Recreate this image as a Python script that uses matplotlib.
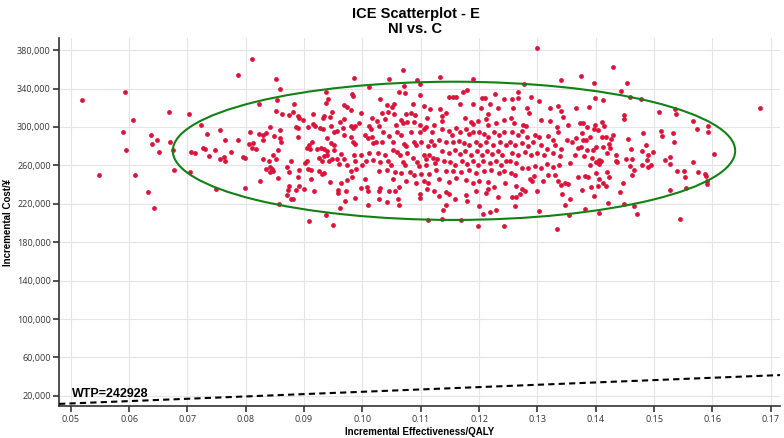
import matplotlib
matplotlib.use("Agg")
import matplotlib.pyplot as plt
from matplotlib.patches import Ellipse
from matplotlib.ticker import FuncFormatter
import numpy as np

# ICE points: (incremental QALY, incremental cost in thousand yuan)
left_pts = [
    (0.0520, 327.8), (0.0593, 336.7), (0.0549, 249.9), (0.0607, 307.7), (0.0589, 295.2),
    (0.0595, 276.5), (0.0611, 249.9), (0.0633, 232.3), (0.0642, 215.7), (0.0637, 291.8),
    (0.0639, 282.1), (0.0648, 286.9), (0.0651, 274.4), (0.0669, 315.9), (0.0670, 284.2),
    (0.0676, 275.9), (0.0677, 255.1), (0.0702, 313.2), (0.0704, 253.0), (0.0706, 273.8),
    (0.0713, 273.4), (0.0724, 302.5), (0.0733, 292.8), (0.0726, 278.6), (0.0731, 277.2),
    (0.0737, 270.0), (0.0756, 297.3), (0.0765, 286.6), (0.0747, 275.9), (0.0749, 235.0),
    (0.0756, 266.9), (0.0763, 268.9), (0.0764, 264.1), (0.0775, 274.4), (0.0786, 285.9),
    (0.0787, 354.0), (0.0810, 370.7),
]
band1_pts = [
    (0.0852, 349.9), (0.0859, 339.9), (0.0823, 323.9), (0.0854, 328.1), (0.0852, 316.3),
    (0.0863, 313.2), (0.0875, 312.2), (0.0808, 294.9), (0.0823, 293.1), (0.0829, 291.4),
    (0.0834, 294.2), (0.0841, 299.7), (0.0849, 290.7), (0.0859, 296.6), (0.0859, 288.3),
    (0.0861, 284.8), (0.0830, 286.9), (0.0806, 282.4), (0.0812, 283.1), (0.0810, 277.9),
    (0.0818, 277.2), (0.0795, 268.9), (0.0798, 267.5), (0.0829, 266.2), (0.0840, 264.1),
    (0.0847, 270.3), (0.0852, 266.2), (0.0855, 275.8), (0.0877, 264.8), (0.0842, 257.9),
    (0.0845, 255.8), (0.0834, 255.8), (0.0847, 254.4), (0.0842, 253.4), (0.0870, 257.9),
    (0.0874, 253.4), (0.0855, 246.8), (0.0824, 243.7), (0.0798, 236.7), (0.0875, 238.1),
    (0.0873, 234.0), (0.0870, 228.8), (0.0877, 224.6), (0.0857, 219.4),
]
band2_pts = [
    (0.0985, 351.3), (0.0937, 336.0), (0.0941, 328.8), (0.0983, 334.3), (0.0984, 331.9),
    (0.0938, 324.6), (0.0969, 322.9), (0.0974, 320.5), (0.0980, 317.7), (0.0882, 323.6),
    (0.0881, 316.0), (0.0948, 315.3), (0.0915, 313.6), (0.0890, 311.5), (0.0892, 309.1),
    (0.0899, 307.3), (0.0935, 311.8), (0.0933, 309.4), (0.0945, 310.1), (0.0969, 308.0),
    (0.0962, 305.6), (0.0997, 314.2), (0.0994, 303.9), (0.0980, 301.4), (0.0886, 300.4),
    (0.0890, 298.7), (0.0907, 300.4), (0.0915, 303.2), (0.0919, 301.4), (0.0928, 299.4),
    (0.0932, 297.6), (0.0946, 301.4), (0.0957, 295.9), (0.0966, 298.7), (0.0951, 294.5),
    (0.0984, 299.4), (0.0988, 301.4), (0.0940, 289.0), (0.0969, 291.8), (0.0981, 290.0),
    (0.0984, 284.8), (0.0988, 282.1), (0.0889, 290.0), (0.0914, 284.1), (0.0908, 281.4),
    (0.0905, 278.6), (0.0911, 276.9), (0.0923, 277.2), (0.0929, 278.6), (0.0934, 277.2),
    (0.0940, 274.5), (0.0939, 271.0), (0.0947, 283.1), (0.0951, 281.4), (0.0952, 276.2),
    (0.0963, 271.7), (0.0934, 269.3), (0.0926, 267.5), (0.0930, 264.1), (0.0942, 264.8),
    (0.0948, 266.2), (0.0957, 266.2), (0.0960, 261.3), (0.0968, 266.8), (0.0974, 260.6),
    (0.0985, 270.3), (0.0988, 264.8), (0.0997, 271.0), (0.0999, 260.6), (0.0989, 256.5),
    (0.0905, 264.8), (0.0901, 262.3), (0.0891, 255.4), (0.0907, 256.5), (0.0912, 255.1),
    (0.0925, 254.4), (0.0931, 250.9), (0.0935, 252.0), (0.0980, 253.7), (0.0889, 247.5),
    (0.0912, 245.7), (0.0945, 242.6), (0.0964, 241.6), (0.0973, 245.0), (0.0983, 247.5),
    (0.0892, 238.1), (0.0886, 234.7), (0.0900, 235.7), (0.0917, 233.6), (0.0958, 234.7),
    (0.0958, 231.2), (0.0972, 233.6), (0.0997, 236.4), (0.0881, 225.3), (0.0970, 223.3),
    (0.0988, 226.0), (0.0962, 215.6), (0.0909, 202.5), (0.0938, 208.7), (0.0949, 198.3),
]
band3_pts = [
    (0.1069, 359.2), (0.1045, 349.9), (0.1012, 341.2), (0.1093, 348.5), (0.1099, 344.4),
    (0.1072, 342.6), (0.1062, 336.0), (0.1073, 335.0), (0.1098, 333.6), (0.1031, 328.8),
    (0.1043, 322.9), (0.1054, 323.9), (0.1051, 320.5), (0.1086, 323.9), (0.1106, 321.9),
    (0.1116, 318.4), (0.1034, 314.2), (0.1044, 315.3), (0.1054, 313.6), (0.1074, 313.6),
    (0.1083, 314.2), (0.1090, 312.5), (0.1110, 309.8), (0.1017, 309.1), (0.1025, 306.3),
    (0.1038, 308.0), (0.1066, 307.3), (0.1070, 303.9), (0.1076, 304.9), (0.1089, 304.9),
    (0.1099, 302.1), (0.1109, 299.7), (0.1123, 302.1), (0.1011, 301.4), (0.1014, 298.0),
    (0.1029, 301.4), (0.1035, 295.2), (0.1046, 290.7), (0.1057, 302.1), (0.1060, 294.5),
    (0.1067, 291.8), (0.1083, 295.2), (0.1099, 294.5), (0.1106, 298.0), (0.1120, 294.5),
    (0.1005, 291.8), (0.1010, 289.0), (0.1017, 290.0), (0.1024, 284.1), (0.1019, 283.1),
    (0.1033, 284.1), (0.1052, 284.1), (0.1072, 282.1), (0.1075, 279.7), (0.1088, 284.1),
    (0.1092, 281.4), (0.1101, 284.8), (0.1112, 279.7), (0.1117, 285.5), (0.1122, 281.4),
    (0.1012, 272.7), (0.1026, 272.7), (0.1038, 271.0), (0.1053, 276.2), (0.1059, 273.8),
    (0.1065, 271.0), (0.1077, 272.7), (0.1086, 267.5), (0.1106, 271.0), (0.1109, 266.8),
    (0.1115, 271.0), (0.1121, 267.5), (0.1006, 264.8), (0.1018, 265.8), (0.1030, 263.4),
    (0.1044, 264.8), (0.1049, 260.6), (0.1070, 263.4), (0.1073, 260.6), (0.1094, 263.4),
    (0.1097, 258.9), (0.1109, 260.6), (0.1124, 262.3), (0.1029, 253.7), (0.1042, 255.4),
    (0.1056, 253.0), (0.1066, 252.0), (0.1082, 253.0), (0.1089, 250.2), (0.1100, 250.9),
    (0.1115, 250.9), (0.1004, 246.1), (0.1052, 246.1), (0.1075, 243.3), (0.1092, 241.6),
    (0.1105, 244.0), (0.1113, 241.6), (0.1008, 237.1), (0.1010, 232.9), (0.1028, 232.9),
    (0.1030, 236.4), (0.1046, 233.6), (0.1056, 233.6), (0.1062, 237.1), (0.1099, 230.2),
    (0.1110, 235.7), (0.1123, 232.9), (0.1029, 225.3), (0.1043, 221.5), (0.1061, 225.3),
    (0.1062, 218.4), (0.1010, 218.4), (0.1098, 226.0), (0.1113, 203.2),
]
band4_pts = [
    (0.1133, 352.3), (0.1190, 349.9), (0.1148, 331.6), (0.1155, 330.9), (0.1161, 330.9),
    (0.1172, 336.7), (0.1179, 338.1), (0.1168, 323.6), (0.1189, 323.6), (0.1205, 329.8),
    (0.1211, 330.5), (0.1218, 323.6), (0.1227, 334.7), (0.1243, 329.1), (0.1133, 318.4),
    (0.1144, 314.2), (0.1137, 311.8), (0.1203, 319.4), (0.1216, 313.2), (0.1232, 319.4),
    (0.1136, 306.3), (0.1176, 309.1), (0.1186, 305.6), (0.1189, 303.5), (0.1199, 306.3),
    (0.1212, 308.4), (0.1215, 302.1), (0.1229, 303.9), (0.1243, 307.3), (0.1137, 298.0),
    (0.1148, 295.9), (0.1153, 291.8), (0.1160, 299.4), (0.1167, 294.5), (0.1177, 298.0),
    (0.1182, 292.5), (0.1189, 294.5), (0.1200, 295.2), (0.1209, 292.5), (0.1215, 290.0),
    (0.1226, 295.2), (0.1235, 291.8), (0.1243, 294.5), (0.1131, 286.6), (0.1143, 284.1),
    (0.1155, 284.8), (0.1166, 285.5), (0.1175, 283.1), (0.1182, 281.4), (0.1194, 284.8),
    (0.1202, 281.4), (0.1212, 284.1), (0.1224, 281.4), (0.1236, 284.1), (0.1246, 281.4),
    (0.1136, 274.5), (0.1148, 272.7), (0.1159, 276.2), (0.1167, 271.7), (0.1176, 274.5),
    (0.1186, 271.0), (0.1196, 274.5), (0.1205, 271.0), (0.1213, 274.5), (0.1222, 271.7),
    (0.1233, 274.5), (0.1240, 271.0), (0.1128, 266.8), (0.1140, 264.8), (0.1150, 263.4),
    (0.1159, 260.6), (0.1171, 264.8), (0.1180, 261.3), (0.1189, 264.1), (0.1198, 260.6),
    (0.1206, 264.8), (0.1218, 262.0), (0.1229, 264.8), (0.1238, 260.6), (0.1247, 264.1),
    (0.1127, 255.4), (0.1143, 253.7), (0.1156, 254.4), (0.1169, 253.0), (0.1183, 255.4),
    (0.1195, 252.0), (0.1209, 253.7), (0.1220, 255.4), (0.1235, 252.0), (0.1243, 253.7),
    (0.1132, 246.1), (0.1148, 242.6), (0.1160, 246.8), (0.1177, 245.0), (0.1190, 241.6),
    (0.1200, 244.0), (0.1216, 242.6), (0.1226, 237.1), (0.1245, 241.6), (0.1131, 227.7),
    (0.1144, 232.2), (0.1148, 230.2), (0.1159, 225.3), (0.1177, 229.5), (0.1180, 223.3),
    (0.1195, 233.6), (0.1212, 231.2), (0.1216, 235.7), (0.1232, 226.7), (0.1139, 213.9),
    (0.1143, 219.1), (0.1200, 217.4), (0.1206, 209.4), (0.1219, 211.5), (0.1229, 213.9),
    (0.1137, 204.6), (0.1169, 203.2), (0.1198, 196.6), (0.1242, 196.6), (0.1300, 381.8),
]
band5_pts = [
    (0.1341, 348.8), (0.1277, 344.4), (0.1267, 336.0), (0.1256, 328.8), (0.1289, 330.9),
    (0.1303, 327.0), (0.1266, 329.8), (0.1259, 320.1), (0.1282, 320.1), (0.1285, 314.2),
    (0.1321, 320.1), (0.1336, 322.2), (0.1341, 316.7), (0.1344, 310.8), (0.1367, 319.4),
    (0.1255, 309.1), (0.1260, 303.9), (0.1276, 302.1), (0.1281, 301.4), (0.1307, 307.3),
    (0.1321, 306.3), (0.1333, 300.4), (0.1353, 302.1), (0.1373, 303.9), (0.1257, 295.2),
    (0.1266, 291.8), (0.1273, 295.9), (0.1283, 290.0), (0.1296, 291.8), (0.1303, 290.0),
    (0.1319, 291.0), (0.1327, 286.6), (0.1336, 295.2), (0.1350, 286.6), (0.1359, 284.1),
    (0.1367, 288.3), (0.1253, 284.8), (0.1261, 281.4), (0.1273, 283.1), (0.1284, 279.7),
    (0.1293, 284.1), (0.1307, 281.4), (0.1317, 277.2), (0.1330, 281.4), (0.1341, 277.2),
    (0.1370, 278.6), (0.1256, 272.7), (0.1267, 271.0), (0.1279, 273.8), (0.1289, 271.0),
    (0.1300, 272.7), (0.1312, 270.3), (0.1327, 272.7), (0.1339, 269.3), (0.1356, 262.3),
    (0.1364, 271.0), (0.1253, 264.1), (0.1264, 262.3), (0.1274, 257.2), (0.1284, 257.2),
    (0.1296, 258.9), (0.1306, 257.2), (0.1317, 261.3), (0.1327, 257.9), (0.1337, 260.6),
    (0.1255, 252.0), (0.1261, 249.5), (0.1287, 246.1), (0.1295, 248.5), (0.1310, 244.0),
    (0.1319, 249.5), (0.1330, 250.2), (0.1336, 244.0), (0.1348, 241.6), (0.1370, 247.5),
    (0.1264, 238.1), (0.1274, 235.7), (0.1290, 243.3), (0.1299, 233.6), (0.1341, 239.9),
    (0.1353, 240.6), (0.1257, 226.7), (0.1264, 226.7), (0.1271, 230.2), (0.1279, 233.0),
    (0.1343, 230.2), (0.1356, 225.3), (0.1261, 217.4), (0.1347, 218.4), (0.1303, 212.2),
    (0.1354, 208.7), (0.1333, 194.2),
]
right_pts = [
    (0.1682, 320.1), (0.1430, 362.4), (0.1454, 346.1), (0.1397, 345.4), (0.1443, 337.4),
    (0.1459, 331.5), (0.1478, 329.1), (0.1399, 330.5), (0.1412, 327.8), (0.1389, 320.8),
    (0.1375, 352.7), (0.1509, 315.3), (0.1536, 319.1), (0.1538, 313.6), (0.1566, 306.6),
    (0.1592, 300.8), (0.1573, 297.7), (0.1592, 294.9), (0.1448, 312.2), (0.1449, 308.7),
    (0.1481, 293.8), (0.1512, 295.6), (0.1513, 290.7), (0.1532, 293.5), (0.1535, 284.8),
    (0.1487, 281.4), (0.1498, 273.8), (0.1480, 275.1), (0.1490, 270.3), (0.1488, 265.5),
    (0.1495, 260.9), (0.1490, 258.8), (0.1480, 260.9), (0.1603, 271.7), (0.1519, 265.5),
    (0.1528, 268.6), (0.1527, 261.4), (0.1567, 263.4), (0.1540, 254.4), (0.1552, 254.4),
    (0.1553, 248.2), (0.1576, 253.0), (0.1588, 251.0), (0.1589, 248.5), (0.1591, 243.3),
    (0.1590, 240.9), (0.1554, 236.8), (0.1528, 234.4), (0.1465, 217.3), (0.1471, 209.4),
    (0.1544, 204.6), (0.1448, 219.8), (0.1421, 221.2), (0.1406, 210.5), (0.1381, 215.0),
    (0.1397, 227.7), (0.1447, 241.2), (0.1441, 231.9), (0.1463, 250.3), (0.1466, 254.7),
    (0.1459, 259.6), (0.1452, 266.5), (0.1463, 266.9), (0.1435, 271.0), (0.1436, 263.4),
    (0.1460, 276.9), (0.1455, 287.6), (0.1430, 291.5), (0.1427, 287.6), (0.1422, 282.7),
    (0.1424, 278.6), (0.1420, 272.4), (0.1413, 279.0), (0.1411, 290.0), (0.1418, 290.0),
    (0.1411, 305.3), (0.1414, 301.1), (0.1398, 301.8), (0.1404, 297.0), (0.1422, 247.9),
    (0.1413, 241.6), (0.1417, 238.8), (0.1406, 245.8), (0.1404, 238.1), (0.1392, 237.1),
    (0.1377, 234.4), (0.1386, 247.9), (0.1401, 251.6), (0.1390, 260.3), (0.1393, 267.6),
    (0.1434, 264.5), (0.1420, 253.0), (0.1406, 261.7), (0.1409, 264.1), (0.1405, 265.8),
    (0.1401, 263.7), (0.1385, 276.2), (0.1396, 276.2), (0.1401, 279.6), (0.1381, 249.2),
    (0.1376, 293.5), (0.1378, 286.6), (0.1375, 279.6), (0.1397, 297.7), (0.1379, 303.9),
    (0.1385, 299.7), (0.1390, 290.0), (0.1384, 286.6), (0.1380, 269.3),
]

wtp = 242928
x_ticks = [0.05, 0.06, 0.07, 0.08, 0.09, 0.10, 0.11, 0.12, 0.13, 0.14, 0.15, 0.16, 0.17]
y_ticks = list(range(20000, 380001, 40000))

# 95% ellipse (centre, full width, full height)
ell_center = (0.1157, 275150)
ell_width = 0.0964
ell_height = 143900

pts = np.array(left_pts + band1_pts + band2_pts + band3_pts + band4_pts + band5_pts + right_pts)
eff = pts[:, 0]
cost = pts[:, 1] * 1000

fig = plt.figure(figsize=(7.84, 4.38), dpi=100)
ax = fig.add_axes([0.0753, 0.072, 0.9197, 0.841])

ax.grid(True, color='#e4e4e4', linewidth=0.8)
ax.set_axisbelow(True)

ax.scatter(eff, cost, s=12, color='#dc143c', linewidths=0, zorder=3)

ell = Ellipse(ell_center, ell_width, ell_height, fill=False, edgecolor='#138013',
              linewidth=1.5, zorder=4)
ax.add_patch(ell)

xlim = (0.048, 0.1716)
xs = np.array(xlim)
ax.plot(xs, wtp * xs, color='black', linestyle=(0, (3, 2)), linewidth=1.5, zorder=5)
ax.text(0.0503, 19000, 'WTP=%d' % wtp, fontsize=9, fontweight='bold',
        family='Liberation Sans', va='baseline', ha='left')

ax.set_xlim(*xlim)
ax.set_ylim(9000, 392500)
ax.set_xticks(x_ticks)
ax.set_xticklabels(['%.2f' % v for v in x_ticks])
ax.set_yticks(y_ticks)
ax.yaxis.set_major_formatter(FuncFormatter(lambda v, p: '{:,.0f}'.format(v)))

for side in ['top', 'right']:
    ax.spines[side].set_visible(False)
for side in ['left', 'bottom']:
    ax.spines[side].set_color('#333333')
    ax.spines[side].set_linewidth(1.2)
ax.tick_params(axis='both', length=4, width=1.2, color='#333333', labelsize=6.5,
               labelcolor='#333333', pad=2)
for lab in ax.get_xticklabels() + ax.get_yticklabels():
    lab.set_family('Open Sans')

ax.set_xlabel('Incremental Effectiveness/QALY', fontsize=7, fontweight='bold',
              family='Liberation Sans', labelpad=2)
ax.set_ylabel('Incremental Cost/¥', fontsize=7, fontweight='bold',
              family='Liberation Sans', labelpad=3)

fig.text(0.53, 0.985, 'ICE Scatterplot - E\nNI vs. C', ha='center', va='top',
         fontsize=10.5, fontweight='bold', family='Liberation Sans', linespacing=1.15)

fig.savefig('out.png', dpi=100)
